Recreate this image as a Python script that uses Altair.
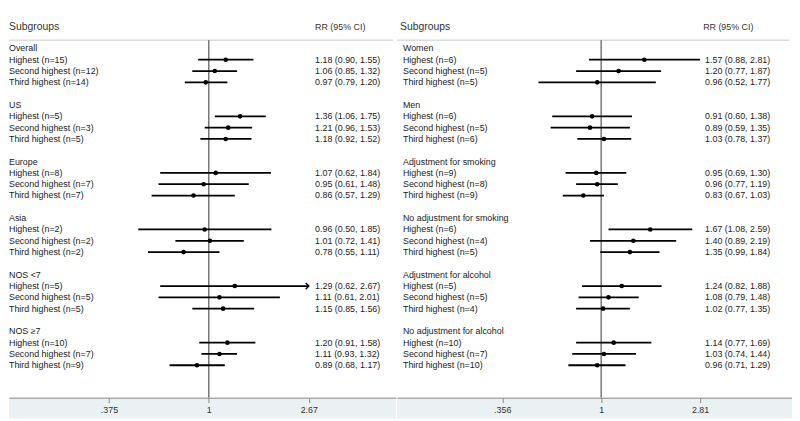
import math
import altair as alt
import pandas as pd

# ---------------- data ----------------
ranks = ["Highest", "Second highest", "Third highest"]

left_groups = ["Overall", "US", "Europe", "Asia", "NOS <7", "NOS ≥7"]
left_n = [[15, 12, 14], [5, 3, 5], [8, 7, 7], [2, 2, 2], [5, 5, 5], [10, 7, 9]]
left_rr = [[1.18, 1.06, 0.97], [1.36, 1.21, 1.18], [1.07, 0.95, 0.86],
           [0.96, 1.01, 0.78], [1.29, 1.11, 1.15], [1.20, 1.11, 0.89]]
left_lo = [[0.90, 0.85, 0.79], [1.06, 0.96, 0.92], [0.62, 0.61, 0.57],
           [0.50, 0.72, 0.55], [0.62, 0.61, 0.85], [0.91, 0.93, 0.68]]
left_hi = [[1.55, 1.32, 1.20], [1.75, 1.53, 1.52], [1.84, 1.48, 1.29],
           [1.85, 1.41, 1.11], [2.67, 2.01, 1.56], [1.58, 1.32, 1.17]]
left_arrows = [(4, 0)]
left_ticks = [0.375, 1, 2.67]

right_groups = ["Women", "Men", "Adjustment for smoking", "No adjustment for smoking",
                "Adjustment for alcohol", "No adjustment for alcohol"]
right_n = [[6, 5, 5], [6, 5, 6], [9, 8, 9], [6, 4, 5], [5, 5, 4], [10, 7, 10]]
right_rr = [[1.57, 1.20, 0.96], [0.91, 0.89, 1.03], [0.95, 0.96, 0.83],
            [1.67, 1.40, 1.35], [1.24, 1.08, 1.02], [1.14, 1.03, 0.96]]
right_lo = [[0.88, 0.77, 0.52], [0.60, 0.59, 0.78], [0.69, 0.77, 0.67],
            [1.08, 0.89, 0.99], [0.82, 0.79, 0.77], [0.77, 0.74, 0.71]]
right_hi = [[2.81, 1.87, 1.77], [1.38, 1.35, 1.37], [1.30, 1.19, 1.03],
            [2.59, 2.19, 1.84], [1.88, 1.48, 1.35], [1.69, 1.44, 1.29]]
right_arrows = []
right_ticks = [0.356, 1, 2.81]

# ---------------- layout ----------------
FONT = "Liberation Sans"
TXT = "#222222"
BAND = "#e9f1f3"
H = 392          # plot height (axis line position)
BAND_H = 21
ROW0 = 38.3      # pixel of first row
STEP = 11.46     # pixel per row
Y_TOP = -ROW0 / STEP
Y_BOT = (H - ROW0) / STEP


def build(groups, n, rr, lo, hi, arrows):
    rows = []
    for g, name in enumerate(groups):
        rows.append(dict(row=5 * g, label=name, kind="header"))
        for i in range(3):
            rows.append(dict(
                row=5 * g + 1 + i,
                label=f"{ranks[i]} (n={n[g][i]})",
                kind="item",
                rr=rr[g][i], lo=lo[g][i], hi=hi[g][i],
                est=f"{rr[g][i]:.2f} ({lo[g][i]:.2f}, {hi[g][i]:.2f})",
                arrow=(g, i) in arrows,
            ))
    return pd.DataFrame(rows)


def log_domain(width, one_px, px_per_ln):
    return [math.exp((0 - one_px) / px_per_ln), math.exp((width - one_px) / px_per_ln)]


def panel(df, width, domain, ticks, x_label, x_rr, x_sub, x_rrh):
    one = pd.DataFrame({"a": [0]})
    xs = alt.Scale(type="log", domain=domain, nice=False)
    ys = alt.Scale(domain=[Y_TOP, Y_BOT], reverse=True)
    y = alt.Y("row:Q", scale=ys, axis=None)
    items = alt.Chart(df).transform_filter("datum.kind == 'item'")

    band = alt.Chart(one).mark_rect(color=BAND).encode(
        x=alt.value(0), x2=alt.value(width), y=alt.value(H), y2=alt.value(H + BAND_H))
    sep = alt.Chart(one).mark_rule(color="#dcdcdc", strokeWidth=1.5).encode(
        x=alt.value(0), x2=alt.value(width - 3), y=alt.value(30))
    ci = items.mark_rule(color="black", strokeWidth=1.8).encode(
        x=alt.X("lo:Q", scale=xs, axis=alt.Axis(
            values=ticks, title=None, grid=False, tickSize=5, tickColor="#888",
            domainColor="#888", labelFontSize=9, labelFont=FONT, labelColor="#333",
            labelPadding=3, zindex=1, labelFlush=False, labelOverlap=False,
            labelExpr="datum.value < 1 ? substring(toString(datum.value), 1) : toString(datum.value)")),
        x2="hi:Q", y=y)
    ref = alt.Chart(one).mark_rule(color="#333", strokeWidth=1).encode(
        x=alt.datum(1), y=alt.value(30), y2=alt.value(H))
    pts = items.mark_point(filled=True, shape="circle", size=22, color="black", opacity=1).encode(
        x="rr:Q", y=y)
    arrow = items.transform_filter("datum.arrow").mark_point(
        shape="M-1,-1L0,0L-1,1", filled=False, size=40, strokeWidth=1.5,
        color="black", opacity=1).encode(x="hi:Q", y=y)
    labels = alt.Chart(df).mark_text(align="left", baseline="middle", fontSize=9,
                                     font=FONT, color=TXT).encode(
        x=alt.value(x_label), y=y, text="label:N")
    est = items.mark_text(align="left", baseline="middle", fontSize=9,
                          font=FONT, color=TXT).encode(
        x=alt.value(x_rr), y=y, text="est:N")
    h1 = alt.Chart(one).mark_text(align="left", baseline="middle", fontSize=10.5,
                                  font=FONT, color="#333").encode(
        x=alt.value(x_sub), y=alt.value(17), text=alt.value("Subgroups"))
    h2 = alt.Chart(one).mark_text(align="left", baseline="middle", fontSize=9,
                                  font=FONT, color="#333").encode(
        x=alt.value(x_rrh), y=alt.value(17), text=alt.value("RR (95% CI)"))
    return alt.layer(band, sep, ref, ci, pts, arrow, labels, est, h1, h2).properties(
        width=width, height=H)


left_df = build(left_groups, left_n, left_rr, left_lo, left_hi, left_arrows)
right_df = build(right_groups, right_n, right_rr, right_lo, right_hi, right_arrows)

LW, RW = 392, 400
left = panel(left_df, LW, log_domain(LW, 202.4, 103.1), left_ticks, 0, 310, 0, 310)
right = panel(right_df, RW, log_domain(RW, 206.7, 97.0), right_ticks, 6, 312, 3, 310)

chart = alt.hconcat(left, right, spacing=0).properties(padding=0).configure_view(stroke=None)

chart.save("out.html", embed_options={"renderer": "svg", "actions": False})
